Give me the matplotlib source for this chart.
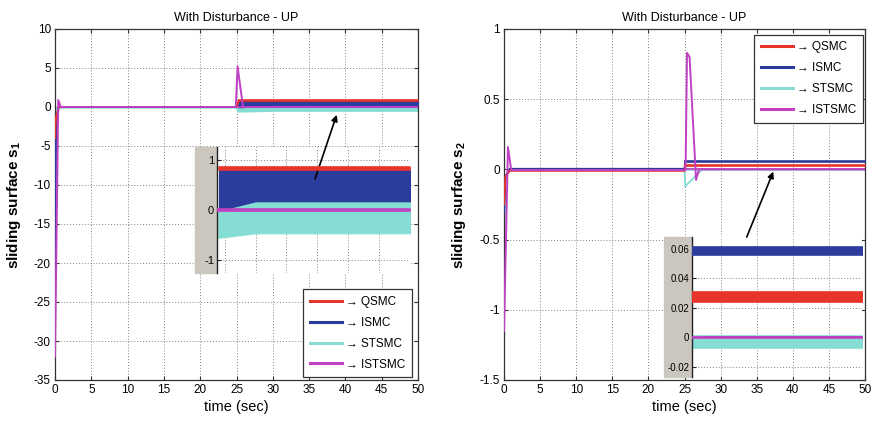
import matplotlib
matplotlib.use("Agg")
import matplotlib.pyplot as plt
from matplotlib.patches import Rectangle
from matplotlib.ticker import FormatStrFormatter

plt.rcParams['font.family'] = ['Liberation Sans', 'DejaVu Sans']
plt.rcParams['mathtext.fontset'] = 'custom'
plt.rcParams['mathtext.rm'] = 'Liberation Sans'
plt.rcParams['mathtext.bf'] = 'Liberation Sans:bold'

# ---------------- data ----------------
controllers = ['QSMC', 'ISMC', 'STSMC', 'ISTSMC']
legend_labels = ['\u2192 QSMC', '\u2192 ISMC', '\u2192 STSMC', '\u2192 ISTSMC']
colors = ['#e8352b', '#2b3c9c', '#86ddd3', '#c040c4']
title_text = 'With Disturbance - UP'

time_ticks = [0, 5, 10, 15, 20, 25, 30, 35, 40, 45, 50]
s1_ticks = [-35, -30, -25, -20, -15, -10, -5, 0, 5, 10]
s2_ticks = [-1.5, -1, -0.5, 0, 0.5, 1]
s1_zoom_ticks = [-1, 0, 1]
s2_zoom_ticks = [-0.02, 0, 0.02, 0.04, 0.06]

# sliding surface s1: transient traces (time, value)
s1_qsmc_t = [0, 0.1, 0.5, 25.0, 25.3]
s1_qsmc = [-4.0, -1.5, 0.0, 0.0, 0.83]
s1_ismc_t = [0, 0.15, 0.5, 25.0, 25.3]
s1_ismc = [-22.0, -3.0, 0.0, 0.0, 0.2]
s1_stsmc_t = [0, 0.05, 0.3, 25.0, 25.2]
s1_stsmc = [5.0, -12.0, -0.1, -0.1, -0.5]
s1_istsmc_t = [0, 0.45, 0.8, 24.9, 25.15, 25.9, 27.0, 50.0]
s1_istsmc = [-32.0, 0.9, 0.0, 0.0, 5.2, 0.0, 0.0, 0.0]

# sliding surface s1: chattering envelopes after the disturbance
s1_qsmc_band_t = [25.3, 50.0]
s1_qsmc_lo = [0.80, 0.80]
s1_qsmc_hi = [0.87, 0.87]
s1_ismc_band_t = [25.3, 30.0, 50.0]
s1_ismc_lo = [0.0, 0.18, 0.18]
s1_ismc_hi = [0.80, 0.80, 0.80]
s1_stsmc_band_t = [25.2, 30.0, 50.0]
s1_stsmc_lo = [-0.55, -0.46, -0.46]
s1_stsmc_hi = [0.0, 0.18, 0.18]
s1_istsmc_band_t = [25.0, 50.0]
s1_istsmc_lo = [-0.02, -0.02]
s1_istsmc_hi = [0.02, 0.02]

# sliding surface s2: transient traces
s2_qsmc_t = [0, 0.2, 0.8, 25.0, 25.1]
s2_qsmc = [-0.25, -0.05, -0.01, -0.01, 0.028]
s2_ismc_t = [0, 0.2, 0.8, 25.0, 25.1]
s2_ismc = [-0.3, -0.05, 0.004, 0.004, 0.058]
s2_stsmc_t = [0, 0.3, 0.8, 25.0, 25.1, 27.4]
s2_stsmc = [-0.5, -0.05, -0.005, -0.005, -0.12, -0.004]
s2_istsmc_t = [0, 0.55, 1.0, 25.15, 25.35, 25.7, 26.6, 27.0, 50.0]
s2_istsmc = [-1.15, 0.16, -0.005, -0.005, 0.83, 0.8, -0.075, 0.0, 0.0]

# sliding surface s2: chattering envelopes after the disturbance
s2_qsmc_band_t = [25.1, 50.0]
s2_qsmc_lo = [0.024, 0.024]
s2_qsmc_hi = [0.031, 0.031]
s2_ismc_band_t = [25.1, 50.0]
s2_ismc_lo = [0.056, 0.056]
s2_ismc_hi = [0.061, 0.061]
s2_stsmc_band_t = [25.1, 50.0]
s2_stsmc_lo = [-0.0073, -0.0073]
s2_stsmc_hi = [0.001, 0.001]
s2_istsmc_band_t = [25.1, 50.0]
s2_istsmc_lo = [-0.0006, -0.0006]
s2_istsmc_hi = [0.0004, 0.0004]

s1_traces = [(s1_qsmc_t, s1_qsmc), (s1_ismc_t, s1_ismc),
             (s1_stsmc_t, s1_stsmc), (s1_istsmc_t, s1_istsmc)]
s1_bands = [(s1_qsmc_band_t, s1_qsmc_lo, s1_qsmc_hi),
            (s1_ismc_band_t, s1_ismc_lo, s1_ismc_hi),
            (s1_stsmc_band_t, s1_stsmc_lo, s1_stsmc_hi),
            (s1_istsmc_band_t, s1_istsmc_lo, s1_istsmc_hi)]
s2_traces = [(s2_qsmc_t, s2_qsmc), (s2_ismc_t, s2_ismc),
             (s2_stsmc_t, s2_stsmc), (s2_istsmc_t, s2_istsmc)]
s2_bands = [(s2_qsmc_band_t, s2_qsmc_lo, s2_qsmc_hi),
            (s2_ismc_band_t, s2_ismc_lo, s2_ismc_hi),
            (s2_stsmc_band_t, s2_stsmc_lo, s2_stsmc_hi),
            (s2_istsmc_band_t, s2_istsmc_lo, s2_istsmc_hi)]

# ---------------- layout helpers ----------------
W, H = 877, 429
fig = plt.figure(figsize=(W / 100, H / 100), dpi=100)
fig.patch.set_facecolor('white')


def px_box(x0, y0, x1, y1):
    return [x0 / W, 1 - y1 / H, (x1 - x0) / W, (y1 - y0) / H]


GRID = dict(color='#808080', linestyle=(0, (1, 2)), linewidth=0.7)
DRAW_ORDER = [2, 1, 0, 3]  # zorder ranking for the four controllers


def draw_curves(ax, traces, bands, t_min=None):
    handles = []
    for i, (tr, bd) in enumerate(zip(traces, bands)):
        t, v = tr
        if t_min is not None:
            keep = [k for k, tt in enumerate(t) if tt >= t_min]
            t = [t[k] for k in keep]
            v = [v[k] for k in keep]
        z = 2 + DRAW_ORDER[i]
        if bd is not None:
            bt, lo, hi = bd
            ax.fill_between(bt, lo, hi, color=colors[i], lw=1.2, zorder=z)
        line, = ax.plot(t, v, color=colors[i], lw=1.4, zorder=z)
        handles.append(line)
    return handles


def style_main(ax, ylim, yticks, ylabel, ylab_x):
    ax.set_xlim(0, 50)
    ax.set_ylim(*ylim)
    ax.set_xticks(time_ticks)
    ax.set_yticks(yticks)
    ax.yaxis.set_major_formatter(FormatStrFormatter('%g'))
    ax.grid(True, **GRID)
    ax.set_axisbelow(True)
    ax.tick_params(direction='in', top=True, right=True, length=3,
                   labelsize=8.5, pad=3, color='#333333')
    for s in ax.spines.values():
        s.set_color('#333333')
        s.set_linewidth(0.9)
    ax.set_title(title_text, fontsize=9, pad=6)
    ax.set_xlabel('time (sec)', fontsize=10.5, labelpad=3)
    ax.set_ylabel(ylabel, fontsize=11, fontweight='bold')
    ax.yaxis.set_label_coords(ylab_x, 0.5)


def style_zoom(ax, xlim, xticks, ylim, yticks, labelsize):
    ax.set_xlim(*xlim)
    ax.set_ylim(*ylim)
    ax.set_xticks(xticks)
    ax.set_xticklabels([])
    ax.set_yticks(yticks)
    ax.yaxis.set_major_formatter(FormatStrFormatter('%g'))
    ax.grid(True, **GRID)
    ax.set_axisbelow(True)
    ax.tick_params(axis='x', length=0)
    ax.tick_params(axis='y', direction='in', length=3, labelsize=labelsize,
                   pad=2, color='#222222')
    for name, s in ax.spines.items():
        s.set_visible(name == 'left')
    ax.spines['left'].set_color('#222222')
    ax.spines['left'].set_linewidth(1.0)
    ax.set_facecolor('white')
    ax.set_zorder(10)


def add_legend(ax, handles, loc, anchor):
    leg = ax.legend(handles, legend_labels, loc=loc, bbox_to_anchor=anchor,
                    borderaxespad=0, fontsize=8.5, fancybox=False,
                    framealpha=1, edgecolor='#333333', handlelength=2.7,
                    handletextpad=0.4, labelspacing=0.75, borderpad=0.55)
    leg.get_frame().set_linewidth(0.9)
    for ln in leg.get_lines():
        ln.set_linewidth(2.2)
    leg.set_zorder(20)
    return leg


GRAY = '#cbc7bf'

# ---------------- left panel: s1 ----------------
axL = fig.add_axes(px_box(55, 29, 418, 380))
hL = draw_curves(axL, s1_traces, s1_bands)
style_main(axL, (-35, 10), s1_ticks, r'sliding surface s$_{\mathregular{1}}$', -0.088)
add_legend(axL, hL, 'lower right', (0.9835, 0.0085))

fig.add_artist(Rectangle((195 / W, 1 - 273 / H), 22 / W, 126 / H,
                         transform=fig.transFigure, color=GRAY, zorder=5))
axLz = fig.add_axes(px_box(217, 147, 410, 273))
draw_curves(axLz, s1_traces, s1_bands, t_min=26.0)
style_zoom(axLz, (25, 50), [26, 30, 34, 38, 42, 46, 50], (-1.26, 1.26),
           s1_zoom_ticks, 8)
axLz.annotate('', xy=(38.8, -1.0), xycoords=axL.transData,
              xytext=(37.7, 0.62), textcoords='data', annotation_clip=False,
              arrowprops=dict(arrowstyle='-|>', color='black', lw=1.2,
                              mutation_scale=9, shrinkA=0, shrinkB=0))

# ---------------- right panel: s2 ----------------
axR = fig.add_axes(px_box(504, 29, 865, 380))
hR = draw_curves(axR, s2_traces, s2_bands)
style_main(axR, (-1.5, 1), s2_ticks, r'sliding surface s$_{\mathregular{2}}$', -0.10)
add_legend(axR, hR, 'upper right', (0.9945, 0.983))

fig.add_artist(Rectangle((664 / W, 1 - 377 / H), 28 / W, 140 / H,
                         transform=fig.transFigure, color=GRAY, zorder=5))
axRz = fig.add_axes(px_box(692, 237, 862, 377))
draw_curves(axRz, s2_traces, s2_bands, t_min=27.0)
style_zoom(axRz, (26, 49.6), [30, 35, 40, 45], (-0.027, 0.068),
           s2_zoom_ticks, 7)
axRz.annotate('', xy=(37.3, -0.016), xycoords=axR.transData,
              xytext=(33.6, 0.068), textcoords='data', annotation_clip=False,
              arrowprops=dict(arrowstyle='-|>', color='black', lw=1.2,
                              mutation_scale=9, shrinkA=0, shrinkB=0))

fig.savefig('out.png', dpi=100, facecolor='white')
